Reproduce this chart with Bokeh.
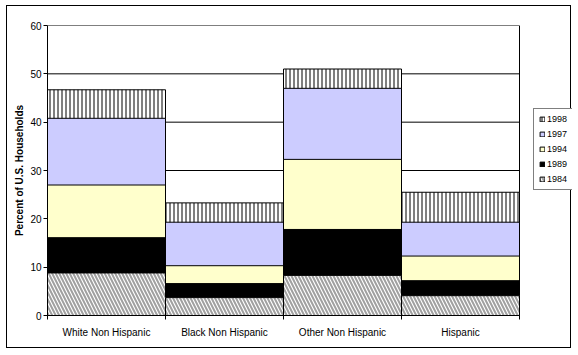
from bokeh.plotting import figure
from bokeh.models import Range1d, FixedTicker, Legend, LegendItem
from bokeh.embed import file_html
from bokeh.resources import INLINE

categories = ["White Non Hispanic", "Black Non Hispanic", "Other Non Hispanic", "Hispanic"]
years = ["1984", "1989", "1994", "1997", "1998"]
v1984 = [8.8, 3.7, 8.3, 4.1]
v1989 = [16.1, 6.6, 17.8, 7.2]
v1994 = [27.0, 10.3, 32.3, 12.3]
v1997 = [40.8, 19.3, 47.0, 19.3]
v1998 = [46.7, 23.3, 51.0, 25.5]
y_ticks = [0, 10, 20, 30, 40, 50, 60]

FONT = "Liberation Sans"

n = len(categories)
x = [i + 0.5 for i in range(n)]

W, H = 565, 343
LEFT, TOP, BOTTOM = 40, 19, 34
PLOT_W = 472                      # visible plot-area width in px
frame_w = W - LEFT                # frame extends to the right edge (legend lives there)
x_end = n * frame_w / PLOT_W

p = figure(width=W, height=H, output_backend="svg", toolbar_location=None,
           x_range=Range1d(0, x_end), y_range=Range1d(0, 60),
           min_border_left=LEFT, min_border_top=TOP, min_border_right=0, min_border_bottom=BOTTOM,
           margin=(5, 0, 0, 6), styles={"border": "1px solid black"})

p.background_fill_color = "white"
p.border_fill_color = "white"
p.outline_line_color = None
p.xgrid.visible = False
p.ygrid.visible = False

# gridlines and right border of the plot area
p.segment(x0=0, x1=n, y0=y_ticks, y1=y_ticks, line_color="black", line_width=1)
p.segment(x0=n, x1=n, y0=0, y1=y_ticks[-1], line_color="black", line_width=1)

common = dict(x=x, width=1.0, bottom=0, line_color="black", line_width=1)
r98 = p.vbar(top=v1998, fill_color="white", hatch_pattern="|", hatch_color="black",
             hatch_weight=1, hatch_scale=4, **common)
r97 = p.vbar(top=v1997, fill_color="#CCCCFF", **common)
r94 = p.vbar(top=v1994, fill_color="#FFFFCC", **common)
r89 = p.vbar(top=v1989, fill_color="black", **common)
r84 = p.vbar(top=v1984, fill_color="white", hatch_pattern="\\", hatch_color="#A0A0A0",
             hatch_weight=2, hatch_scale=7, **common)

# y axis
p.yaxis.ticker = FixedTicker(ticks=y_ticks)
p.yaxis.axis_label = "Percent of U.S. Households"
p.yaxis.axis_label_text_font = FONT
p.yaxis.axis_label_text_font_size = "10px"
p.yaxis.axis_label_text_font_style = "bold"
p.yaxis.axis_label_text_color = "black"
p.yaxis.axis_label_standoff = 2
p.yaxis.major_label_text_font = FONT
p.yaxis.major_label_text_font_size = "10px"
p.yaxis.major_label_text_color = "black"
p.yaxis.major_label_standoff = 2
p.yaxis.major_tick_out = 4
p.yaxis.major_tick_in = 0
p.yaxis.major_tick_line_color = "black"
p.yaxis.minor_tick_out = 0
p.yaxis.axis_line_color = "black"

# x axis: labels at centers, tick marks at category boundaries
p.xaxis.bounds = (0, n)
p.xaxis.ticker = FixedTicker(ticks=x, minor_ticks=list(range(n + 1)))
p.xaxis.major_label_overrides = {xi: c for xi, c in zip(x, categories)}
p.xaxis.major_label_text_font = FONT
p.xaxis.major_label_text_font_size = "10px"
p.xaxis.major_label_text_color = "black"
p.xaxis.major_label_standoff = 7
p.xaxis.major_tick_out = 0
p.xaxis.major_tick_in = 0
p.xaxis.minor_tick_out = 4
p.xaxis.minor_tick_in = 0
p.xaxis.minor_tick_line_color = "black"
p.xaxis.axis_line_color = "black"

items = [LegendItem(label=y, renderers=[r]) for y, r in
         zip(["1998", "1997", "1994", "1989", "1984"], [r98, r97, r94, r89, r84])]
legend = Legend(items=items, location=(PLOT_W + 14, 125), orientation="vertical",
                label_text_font=FONT, label_text_font_size="9px", label_text_color="black",
                glyph_width=6, glyph_height=6, label_height=10, label_standoff=2,
                spacing=5, padding=5, margin=0,
                border_line_color="black", border_line_width=1,
                background_fill_color="white", background_fill_alpha=1)
p.add_layout(legend, "center")

open("out.html", "w").write(file_html(p, INLINE))
